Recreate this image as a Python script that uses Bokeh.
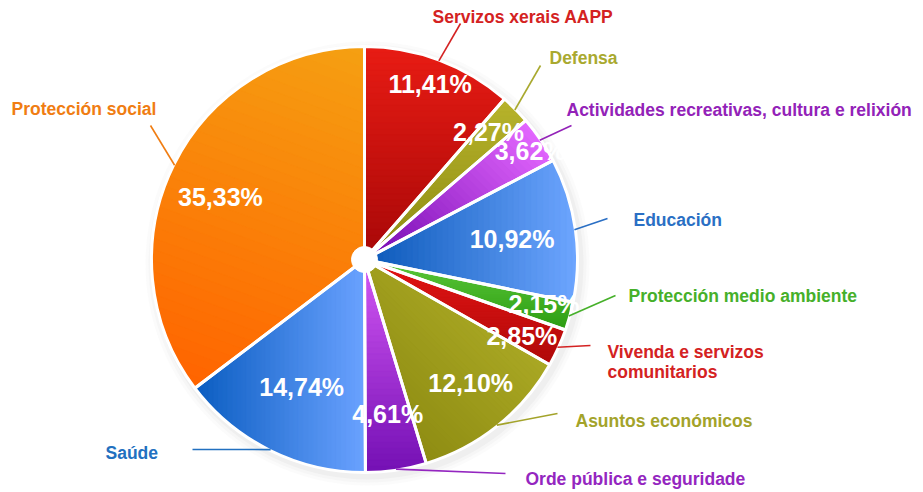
import numpy as np
from bokeh.plotting import figure
from bokeh.models import Range1d, ColumnDataSource
from bokeh.core.properties import value
from bokeh.embed import file_html
from bokeh.resources import INLINE

# ---------------- data ----------------
categories = [
    "Servizos xerais AAPP",
    "Defensa",
    "Actividades recreativas, cultura e relixión",
    "Educación",
    "Protección medio ambiente",
    "Vivenda e servizos comunitarios",
    "Asuntos económicos",
    "Orde pública e seguridade",
    "Saúde",
    "Protección social",
]
shares = [11.41, 2.27, 3.62, 10.92, 2.15, 2.85, 12.10, 4.61, 14.74, 35.33]
pct_labels = ["11,41%", "2,27%", "3,62%", "10,92%", "2,15%",
              "2,85%", "12,10%", "4,61%", "14,74%", "35,33%"]

# ---------------- styles ----------------
grad_dir = [-90, -90, -135, 180, -90, -90, -135, -90, 0, -110]
grad_c0 = ["#e81c14", "#b8b42c", "#e468ff", "#6ea6ff", "#5cc83a",
           "#e41414", "#aaa824", "#d458f4", "#0a5cc0", "#f5a012"]
grad_c1 = ["#a80808", "#8c8a12", "#7208b0", "#0a58b8", "#2e9e14",
           "#b00a0a", "#8e8c12", "#7410b4", "#6aa2ff", "#ff6400"]
label_colors = ["#d42222", "#a9a92f", "#9322b8", "#2a6fc4", "#46b02a",
                "#d42222", "#a3a32a", "#9426c0", "#2270c0", "#f07d12"]
pct_radius = [187, 178, 198, 149, 185, 175, 163, 156, 142, 157]
pct_angle_shift = [0, -1, 1, 0, -1.5, 1.5, -2, 0, 0, -3]  # degrees
# label anchor (left, cap-middle) in canvas coords (y up)
label_xy = [(432, 476), (549, 435), (566, 383), (633, 273), (628, 197),
            (607, 141), (575, 72), (525, 14), (105, 40), (11, 384)]
label_lines = [[c] for c in categories]
label_lines[5] = ["Vivenda e servizos", "comunitarios"]
line_step = 20
conn_end = [(460, 469), (540, 427), (571, 367), (607, 274), (615, 197),
            (590, 147), (557, 79), (505, 19), (192, 43), (150, 367)]

W, H = 923, 492
cx, cy, R = 364, 233, 213
FONT = "Liberation Sans"

p = figure(width=W, height=H, x_range=Range1d(0, W), y_range=Range1d(0, H),
           output_backend="svg", toolbar_location=None, min_border=0,
           x_axis_location=None, y_axis_location=None)
p.grid.visible = False
p.outline_line_color = None
p.background_fill_color = "white"
p.border_fill_color = "white"

# angles (clockwise from 12 o'clock)
fr = np.array(shares) / np.sum(shares)
cum = np.concatenate([[0.0], np.cumsum(fr)]) * 2 * np.pi
a0, a1 = cum[:-1], cum[1:]
start = np.pi / 2 - a1
end = np.pi / 2 - a0
mid = (a0 + a1) / 2

# soft shadow
for dr, al in [(9, 0.035), (6, 0.045), (3, 0.06)]:
    p.circle(x=cx + 3, y=cy - 4, radius=R + dr, fill_color="#888888",
             fill_alpha=al, line_color=None)

# base wedges
base = ColumnDataSource(dict(start=start, end=end, color=grad_c0))
p.wedge(x=cx, y=cy, radius=R, start_angle="start", end_angle="end",
        fill_color="color", line_color=None, source=base)


def hex2rgb(h):
    h = h.lstrip("#")
    return np.array([int(h[i:i + 2], 16) for i in (0, 2, 4)], dtype=float)


def mix(c0, c1, t):
    c = hex2rgb(c0) * (1 - t) + hex2rgb(c1) * t
    return "#%02x%02x%02x" % tuple(int(round(v)) for v in c)


def clip(poly, nx, ny, c):
    out = []
    L = len(poly)
    for i in range(L):
        px, py = poly[i]
        qx, qy = poly[(i + 1) % L]
        dp = nx * px + ny * py - c
        dq = nx * qx + ny * qy - c
        if dp <= 0:
            out.append((px, py))
        if (dp < 0 < dq) or (dq < 0 < dp):
            t = dp / (dp - dq)
            out.append((px + t * (qx - px), py + t * (qy - py)))
    return out


gx, gy, gc = [], [], []
K = 36
for i in range(len(shares)):
    t = np.linspace(start[i], end[i], 90)
    poly = [(cx, cy)] + list(zip(cx + R * np.cos(t), cy + R * np.sin(t)))
    ang = np.deg2rad(grad_dir[i])
    dx, dy = np.cos(ang), np.sin(ang)
    proj = [dx * x + dy * y for x, y in poly]
    smin, smax = min(proj), max(proj)
    ds = (smax - smin) / K
    for k in range(K):
        lo = smin + k * ds - 0.6
        hi = smin + (k + 1) * ds + 0.6
        q = clip(poly, dx, dy, hi)
        if len(q) < 3:
            continue
        q = clip(q, -dx, -dy, -lo)
        if len(q) < 3:
            continue
        gx.append([v[0] for v in q])
        gy.append([v[1] for v in q])
        gc.append(mix(grad_c0[i], grad_c1[i], (k + 0.5) / K))

p.patches(xs="xs", ys="ys", fill_color="c", line_color="c", line_width=0.6,
          source=ColumnDataSource(dict(xs=gx, ys=gy, c=gc)))

# white separators
p.wedge(x=cx, y=cy, radius=R, start_angle="start", end_angle="end",
        fill_color=None, line_color="white", line_width=3, source=base)
p.circle(x=cx, y=cy, radius=13, fill_color="white", line_color="white")

# percentage labels
la = mid + np.deg2rad(pct_angle_shift)
px_ = cx + np.array(pct_radius) * np.sin(la)
py_ = cy + np.array(pct_radius) * np.cos(la)
p.text(x=px_, y=py_, text=pct_labels, text_color="white",
       text_font=value(FONT), text_font_style="bold", text_font_size="25px",
       text_align="center", text_baseline="middle")

# connectors
x0 = cx + (R - 1) * np.sin(mid)
y0 = cy + (R - 1) * np.cos(mid)
p.segment(x0=x0, y0=y0, x1=[e[0] for e in conn_end], y1=[e[1] for e in conn_end],
          line_color=label_colors, line_width=1.6)

# category labels
tx, ty, tt, tc = [], [], [], []
for i, lines in enumerate(label_lines):
    for j, ln in enumerate(lines):
        tx.append(label_xy[i][0])
        ty.append(label_xy[i][1] - j * line_step)
        tt.append(ln)
        tc.append(label_colors[i])
p.text(x=tx, y=ty, text=tt, text_color=tc, text_font=value(FONT),
       text_font_style="bold", text_font_size="17.5px",
       text_align="left", text_baseline="middle")

open("out.html", "w").write(file_html(p, INLINE))
